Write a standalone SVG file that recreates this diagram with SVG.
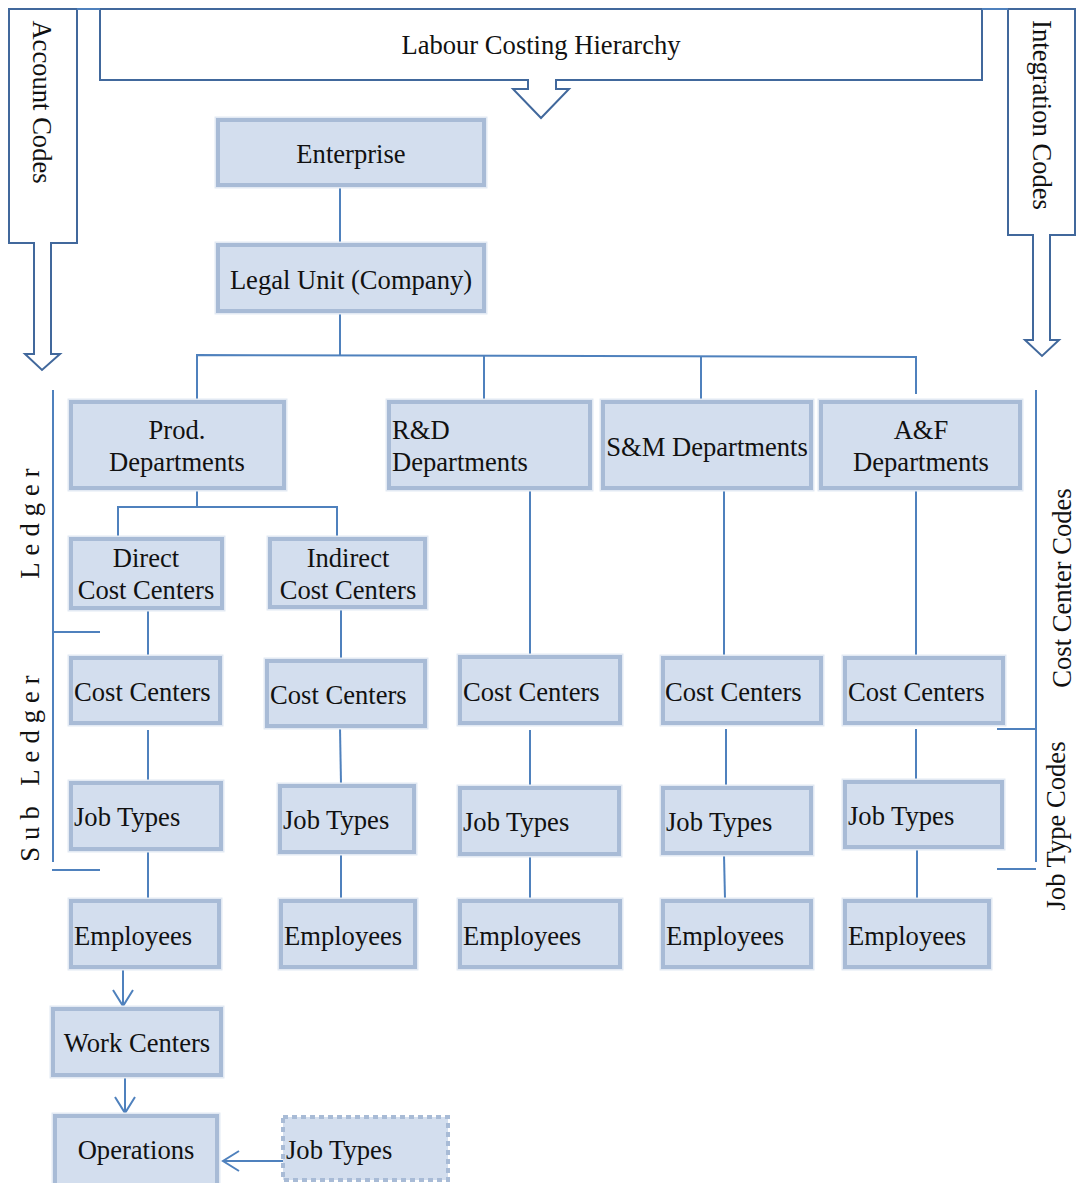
<svg xmlns="http://www.w3.org/2000/svg" width="1076" height="1183" viewBox="0 0 1076 1183">
  <style>
    .box { fill: #D3DEEE; stroke: #A8BBD6; stroke-width: 4; }
    .halo { fill: none; stroke: #E2E9F3; stroke-width: 7; }
    .dashed { fill: #D3DEEE; stroke: #A8BBD6; stroke-width: 4; stroke-dasharray: 5 4; }
    .lbl { font-family: "Liberation Serif", "Times New Roman", serif; font-size: 26.6px; fill: #111; }
    .mid { text-anchor: middle; }
    .conn { fill: none; stroke: #4F81BD; stroke-width: 2; }
    .outline { fill: #FFFFFF; stroke: #41689C; stroke-width: 2; }
  </style>
  <defs>
    <marker id="openArrow" viewBox="-18 -12 20 24" refX="0" refY="0" markerWidth="20" markerHeight="24" markerUnits="userSpaceOnUse" orient="auto">
      <path d="M-16,-10 L0,0 L-16,10" fill="none" stroke="#4F81BD" stroke-width="2"/>
    </marker>
  </defs>
  <rect width="1076" height="1183" fill="#FFFFFF"/>

  <!-- Header banner and side code arrows -->
  <g id="banner">
    <path class="outline" d="M100,9 H982 V80 H556 V89 H569 L541,118 L513,89 H528 V80 H100 Z"/>
    <text class="lbl mid" x="541" y="54">Labour Costing Hierarchy</text>
  </g>
  <g id="account-codes">
    <path class="outline" d="M9,9 H77 V243 H51 V354 H60 L42,370 L25,354 H34 V243 H9 Z"/>
    <text class="lbl mid" transform="translate(42,102) rotate(90)" y="9">Account Codes</text>
  </g>
  <g id="integration-codes">
    <path class="outline" d="M1008,9 H1075 V235 H1050 V340 H1059 L1042,356 L1025,340 H1033 V235 H1008 Z"/>
    <text class="lbl mid" transform="translate(1042,115) rotate(90)" y="9">Integration Codes</text>
  </g>
  <path d="M77,9 H100 M982,9 H1008" stroke="#4F81BD" stroke-width="2" fill="none"/>

  <!-- Ledger / Sub Ledger bracket -->
  <g id="ledger-bracket">
    <path class="conn" d="M53,390 V862 M53,632 H100 M52,870 H100"/>
    <text class="lbl mid" transform="translate(30,520) rotate(-90)" y="9" letter-spacing="7">Ledger</text>
    <text class="lbl mid" transform="translate(30,765) rotate(-90)" y="9" letter-spacing="7">Sub Ledger</text>
  </g>

  <!-- Code bracket on the right -->
  <g id="codes-bracket">
    <path class="conn" d="M1036,390 V862 M997,729 H1036 M997,869 H1036"/>
    <text class="lbl mid" transform="translate(1062,588) rotate(-90)" y="9">Cost Center Codes</text>
    <text class="lbl mid" transform="translate(1056,826) rotate(-90)" y="9">Job Type Codes</text>
  </g>

  <!-- Connectors -->
  <g id="connectors">
    <path class="conn" d="M340,187 V243"/>
    <path class="conn" d="M340,313 V355"/>
    <path class="conn" d="M197,400 V355 L916,357 V394"/>
    <path class="conn" d="M484,356 V400"/>
    <path class="conn" d="M701,356 V400"/>
    <path class="conn" d="M197,490 V507"/>
    <path class="conn" d="M118,537 V507 H337 V537"/>
    <path class="conn" d="M148,610 V656"/>
    <path class="conn" d="M341,609 V659"/>
    <path class="conn" d="M530,490 V655"/>
    <path class="conn" d="M724,490 V656"/>
    <path class="conn" d="M916,490 V656"/>
    <path class="conn" d="M148,730 V781"/>
    <path class="conn" d="M340,728 L341,784"/>
    <path class="conn" d="M530,730 V786"/>
    <path class="conn" d="M726,729 V786"/>
    <path class="conn" d="M916,729 V780"/>
    <path class="conn" d="M148,851 V899"/>
    <path class="conn" d="M341,854 V899"/>
    <path class="conn" d="M530,856 V899"/>
    <path class="conn" d="M724,855 L725,899"/>
    <path class="conn" d="M917,849 V899"/>
    <path class="conn" d="M123,969 V1006" marker-end="url(#openArrow)"/>
    <path class="conn" d="M125,1077 V1113" marker-end="url(#openArrow)"/>
    <path class="conn" d="M283,1161 H223" marker-end="url(#openArrow)"/>
  </g>

  <!-- Nodes -->
  <g id="enterprise">
    <rect class="halo" x="218" y="120" width="266" height="65"/>
    <rect class="box" x="218" y="120" width="266" height="65"/>
    <text class="lbl mid" x="351" y="163">Enterprise</text>
  </g>
  <g id="legal-unit">
    <rect class="halo" x="218" y="245" width="266" height="66"/>
    <rect class="box" x="218" y="245" width="266" height="66"/>
    <text class="lbl mid" x="351" y="289">Legal Unit (Company)</text>
  </g>

  <g id="prod-departments">
    <rect class="halo" x="71" y="402" width="213" height="86"/>
    <rect class="box" x="71" y="402" width="213" height="86"/>
    <text class="lbl mid" x="177" y="439">Prod.</text>
    <text class="lbl mid" x="177" y="471">Departments</text>
  </g>
  <g id="rd-departments">
    <rect class="halo" x="389" y="402" width="201" height="86"/>
    <rect class="box" x="389" y="402" width="201" height="86"/>
    <text class="lbl" x="392" y="439">R&amp;D</text>
    <text class="lbl" x="392" y="471">Departments</text>
  </g>
  <g id="sm-departments">
    <rect class="halo" x="603" y="402" width="208" height="86"/>
    <rect class="box" x="603" y="402" width="208" height="86"/>
    <text class="lbl mid" x="707" y="456">S&amp;M Departments</text>
  </g>
  <g id="af-departments">
    <rect class="halo" x="821" y="402" width="199" height="86"/>
    <rect class="box" x="821" y="402" width="199" height="86"/>
    <text class="lbl mid" x="921" y="439">A&amp;F</text>
    <text class="lbl mid" x="921" y="471">Departments</text>
  </g>

  <g id="direct-cost-centers">
    <rect class="halo" x="71" y="539" width="151" height="69"/>
    <rect class="box" x="71" y="539" width="151" height="69"/>
    <text class="lbl mid" x="146" y="567">Direct</text>
    <text class="lbl mid" x="146" y="599">Cost Centers</text>
  </g>
  <g id="indirect-cost-centers">
    <rect class="halo" x="270" y="539" width="155" height="68"/>
    <rect class="box" x="270" y="539" width="155" height="68"/>
    <text class="lbl mid" x="348" y="567">Indirect</text>
    <text class="lbl mid" x="348" y="599">Cost Centers</text>
  </g>

  <g id="cost-centers-1">
    <rect class="halo" x="71" y="658" width="149" height="65"/>
    <rect class="box" x="71" y="658" width="149" height="65"/>
    <text class="lbl" x="74" y="701">Cost Centers</text>
  </g>
  <g id="cost-centers-2">
    <rect class="halo" x="267" y="661" width="158" height="65"/>
    <rect class="box" x="267" y="661" width="158" height="65"/>
    <text class="lbl" x="270" y="704">Cost Centers</text>
  </g>
  <g id="cost-centers-3">
    <rect class="halo" x="460" y="657" width="160" height="66"/>
    <rect class="box" x="460" y="657" width="160" height="66"/>
    <text class="lbl" x="463" y="701">Cost Centers</text>
  </g>
  <g id="cost-centers-4">
    <rect class="halo" x="663" y="658" width="158" height="65"/>
    <rect class="box" x="663" y="658" width="158" height="65"/>
    <text class="lbl" x="665" y="701">Cost Centers</text>
  </g>
  <g id="cost-centers-5">
    <rect class="halo" x="845" y="658" width="158" height="65"/>
    <rect class="box" x="845" y="658" width="158" height="65"/>
    <text class="lbl" x="848" y="701">Cost Centers</text>
  </g>

  <g id="job-types-1">
    <rect class="halo" x="71" y="783" width="150" height="66"/>
    <rect class="box" x="71" y="783" width="150" height="66"/>
    <text class="lbl" x="74" y="826">Job Types</text>
  </g>
  <g id="job-types-2">
    <rect class="halo" x="280" y="786" width="134" height="66"/>
    <rect class="box" x="280" y="786" width="134" height="66"/>
    <text class="lbl" x="283" y="829">Job Types</text>
  </g>
  <g id="job-types-3">
    <rect class="halo" x="460" y="788" width="159" height="66"/>
    <rect class="box" x="460" y="788" width="159" height="66"/>
    <text class="lbl" x="463" y="831">Job Types</text>
  </g>
  <g id="job-types-4">
    <rect class="halo" x="663" y="788" width="148" height="65"/>
    <rect class="box" x="663" y="788" width="148" height="65"/>
    <text class="lbl" x="666" y="831">Job Types</text>
  </g>
  <g id="job-types-5">
    <rect class="halo" x="845" y="782" width="157" height="65"/>
    <rect class="box" x="845" y="782" width="157" height="65"/>
    <text class="lbl" x="848" y="825">Job Types</text>
  </g>

  <g id="employees-1">
    <rect class="halo" x="71" y="901" width="148" height="66"/>
    <rect class="box" x="71" y="901" width="148" height="66"/>
    <text class="lbl" x="74" y="945">Employees</text>
  </g>
  <g id="employees-2">
    <rect class="halo" x="281" y="901" width="134" height="66"/>
    <rect class="box" x="281" y="901" width="134" height="66"/>
    <text class="lbl" x="284" y="945">Employees</text>
  </g>
  <g id="employees-3">
    <rect class="halo" x="460" y="901" width="160" height="66"/>
    <rect class="box" x="460" y="901" width="160" height="66"/>
    <text class="lbl" x="463" y="945">Employees</text>
  </g>
  <g id="employees-4">
    <rect class="halo" x="663" y="901" width="148" height="66"/>
    <rect class="box" x="663" y="901" width="148" height="66"/>
    <text class="lbl" x="666" y="945">Employees</text>
  </g>
  <g id="employees-5">
    <rect class="halo" x="845" y="901" width="144" height="66"/>
    <rect class="box" x="845" y="901" width="144" height="66"/>
    <text class="lbl" x="848" y="945">Employees</text>
  </g>

  <g id="work-centers">
    <rect class="halo" x="53" y="1009" width="168" height="66"/>
    <rect class="box" x="53" y="1009" width="168" height="66"/>
    <text class="lbl mid" x="137" y="1052">Work Centers</text>
  </g>
  <g id="operations">
    <rect class="halo" x="55" y="1116" width="162" height="69"/>
    <rect class="box" x="55" y="1116" width="162" height="69"/>
    <text class="lbl mid" x="136" y="1159">Operations</text>
  </g>
  <g id="job-types-ops">
    <rect class="dashed" x="283" y="1117" width="165" height="63"/>
    <text class="lbl" x="286" y="1159">Job Types</text>
  </g>
</svg>
